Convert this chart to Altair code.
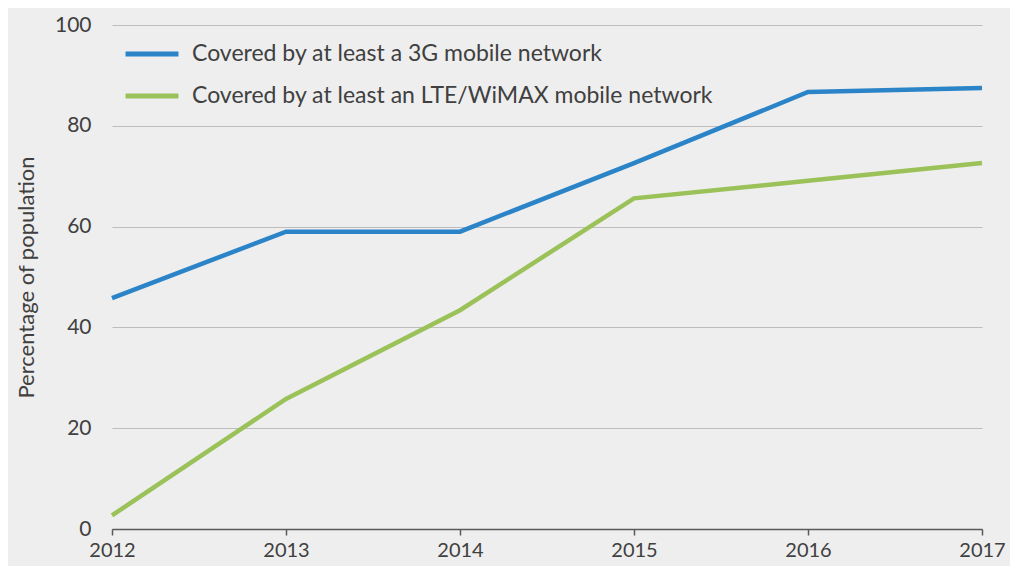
import altair as alt
import pandas as pd

years = [2012, 2013, 2014, 2015, 2016, 2017]
series_3g = [45.8, 59.0, 59.0, 72.6, 86.7, 87.5]
series_lte = [2.7, 25.8, 43.4, 65.6, 69.1, 72.6]
names = ["Covered by at least a 3G mobile network",
         "Covered by at least an LTE/WiMAX mobile network"]
colors = ["#2b84c7", "#9bc159"]

rows = []
for y, v in zip(years, series_3g):
    rows.append({"year": y, "value": v, "series": names[0]})
for y, v in zip(years, series_lte):
    rows.append({"year": y, "value": v, "series": names[1]})
df = pd.DataFrame(rows)

FONT = "Lato"
TXT = "#404040"

chart = alt.Chart(df).mark_line(strokeWidth=4.5).encode(
    x=alt.X("year:Q", scale=alt.Scale(domain=[2012, 2017], nice=False, zero=False),
            axis=alt.Axis(values=years, format="d", title=None, grid=False,
                          domainColor="#595959", domainWidth=1.5, tickColor="#595959",
                          tickWidth=1.5, tickSize=6, labelPadding=5, labelFontSize=20,
                          labelColor=TXT, labelFont=FONT, labelFlush=False)),
    y=alt.Y("value:Q", scale=alt.Scale(domain=[0, 100], nice=False),
            axis=alt.Axis(values=[0, 20, 40, 60, 80, 100], title="Percentage of population",
                          titleFontSize=22, titleFontWeight="normal", titleColor=TXT,
                          titleFont=FONT, titlePadding=16, domain=False, ticks=False,
                          labelPadding=21, labelFontSize=21, labelColor=TXT, labelFont=FONT,
                          gridColor="#bdbdbd", gridWidth=1)),
    color=alt.Color("series:N", scale=alt.Scale(domain=names, range=colors),
                    legend=alt.Legend(title=None, orient="none", legendX=11, legendY=0,
                                      symbolType="stroke", symbolSize=2800,
                                      symbolStrokeWidth=5, labelFontSize=23,
                                      labelColor=TXT, labelFont=FONT, labelOffset=11,
                                      labelLimit=0, rowPadding=1, padding=0)),
).properties(
    width=870, height=504,
    background="#eeeeee",
    padding={"left": 104, "top": 17, "right": 28, "bottom": 37},
    autosize=alt.AutoSizeParams(type="none"),
).configure_view(stroke=None)

chart.save("out.html", embed_options={"renderer": "svg", "actions": False})
